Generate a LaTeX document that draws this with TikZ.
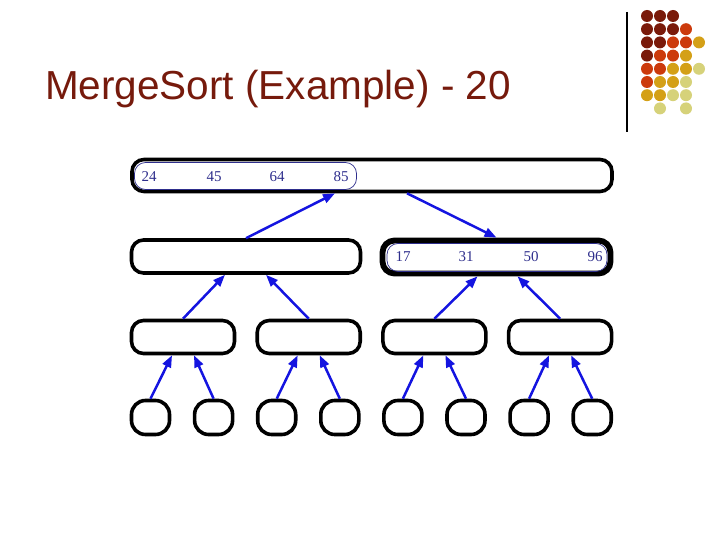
\documentclass[tikz,border=0pt]{standalone}
\usepackage{fontspec}
\setmainfont{Liberation Serif}
\newfontfamily\titlefont{Liberation Sans}
\usepackage{tikz}
\usetikzlibrary{arrows.meta,calc,positioning}

\definecolor{titlered}{HTML}{761A0C}
\definecolor{numblue}{HTML}{2E2E8C}
\definecolor{arrblue}{HTML}{1414E0}
\definecolor{dotA}{HTML}{7A1A0A}
\definecolor{dotB}{HTML}{CC3A0C}
\definecolor{dotC}{HTML}{D4A017}
\definecolor{dotD}{HTML}{D6D27A}

\tikzset{
  arraybox/.style={draw=black, line width=3.6pt, rounded corners=12pt, inner sep=0pt},
  donebox/.style={arraybox, line width=5.8pt},
  innerbox/.style={draw=numblue, line width=0.7pt, rounded corners=11pt, inner sep=0pt},
  leafbox/.style={draw=black, line width=3.6pt, rounded corners=14pt, inner sep=0pt,
    minimum width=38pt, minimum height=34pt},
  num/.style={text=numblue, font=\fontsize{15}{15}\selectfont, inner sep=0pt},
  arr/.style={draw=arrblue, line width=2.5pt, -{Triangle[length=12pt,width=9pt]}}
}

\begin{document}
\begin{tikzpicture}[x=1pt,y=-1pt]
  \useasboundingbox (0,0) rectangle (720,540);

  % Title and slide decoration
  \node[anchor=base west, inner sep=0pt, text=titlered,
        font=\titlefont\fontsize{40.5}{40.5}\selectfont] (title) at (45,100) {MergeSort (Example) - 20};
  \draw[line width=1.2pt] (627,12) -- (627,132);
  \foreach \c/\i/\j in {dotA/0/0,dotA/1/0,dotA/2/0,
                        dotA/0/1,dotA/1/1,dotA/2/1,dotB/3/1,
                        dotA/0/2,dotA/1/2,dotB/2/2,dotB/3/2,dotC/4/2,
                        dotA/0/3,dotB/1/3,dotB/2/3,dotC/3/3,
                        dotB/0/4,dotB/1/4,dotC/2/4,dotC/3/4,dotD/4/4,
                        dotB/0/5,dotC/1/5,dotC/2/5,dotD/3/5,
                        dotC/0/6,dotC/1/6,dotD/2/6,dotD/3/6,
                        dotD/1/7,dotD/3/7}
    \fill[\c] ({647+13*\i},{16+13.2*\j}) circle (6pt);

  % Level 0: the whole array, left half already merged
  \node[arraybox, minimum width=480pt, minimum height=32pt] (top) at (372,175.5) {};
  \node[innerbox, minimum width=222pt, minimum height=27pt] (topin) at (245.5,176) {};
  \node[num] (t1) at (149,177) {24};
  \node[num] (t2) at (214,177) {45};
  \node[num] (t3) at (277,177) {64};
  \node[num] (t4) at (341,177) {85};

  % Level 1: the two halves
  \node[arraybox, minimum width=229pt, minimum height=33pt] (l) at (246,256.5) {};
  \node[donebox, minimum width=228pt, minimum height=33pt] (r) at (496.5,257) {};
  \node[innerbox, minimum width=220pt, minimum height=28pt] (rin) at (497,257.5) {};
  \node[num] (r1) at (403,257) {17};
  \node[num] (r2) at (466,257) {31};
  \node[num] (r3) at (531,257) {50};
  \node[num] (r4) at (595,257) {96};

  % Level 2: quarters
  \foreach \k in {1,...,4}
    \node[arraybox, minimum width=103pt, minimum height=33pt] (m\k) at ({183+125.7*(\k-1)},337) {};

  % Level 3: single elements
  \foreach \k in {1,...,8}
    \node[leafbox] (c\k) at ({150.5+63.1*(\k-1)},417.5) {};

  % Arrows between levels
  \draw[arr] (l.north) -- ([xshift=-37pt]top.south);
  \draw[arr] ([xshift=35pt]top.south) -- (r.north);
  \draw[arr] (m1.north) -- ([xshift=-21pt]l.south);
  \draw[arr] (m2.north) -- ([xshift=20pt]l.south);
  \draw[arr] (m3.north) -- ([xshift=-19pt]r.south);
  \draw[arr] (m4.north) -- ([xshift=21pt]r.south);
  \foreach \k/\a/\b in {1/1/2,2/3/4,3/5/6,4/7/8} {
    \draw[arr] (c\a.north) -- ([xshift=-11pt]m\k.south);
    \draw[arr] (c\b.north) -- ([xshift=11pt]m\k.south);
  }
\end{tikzpicture}
\end{document}
